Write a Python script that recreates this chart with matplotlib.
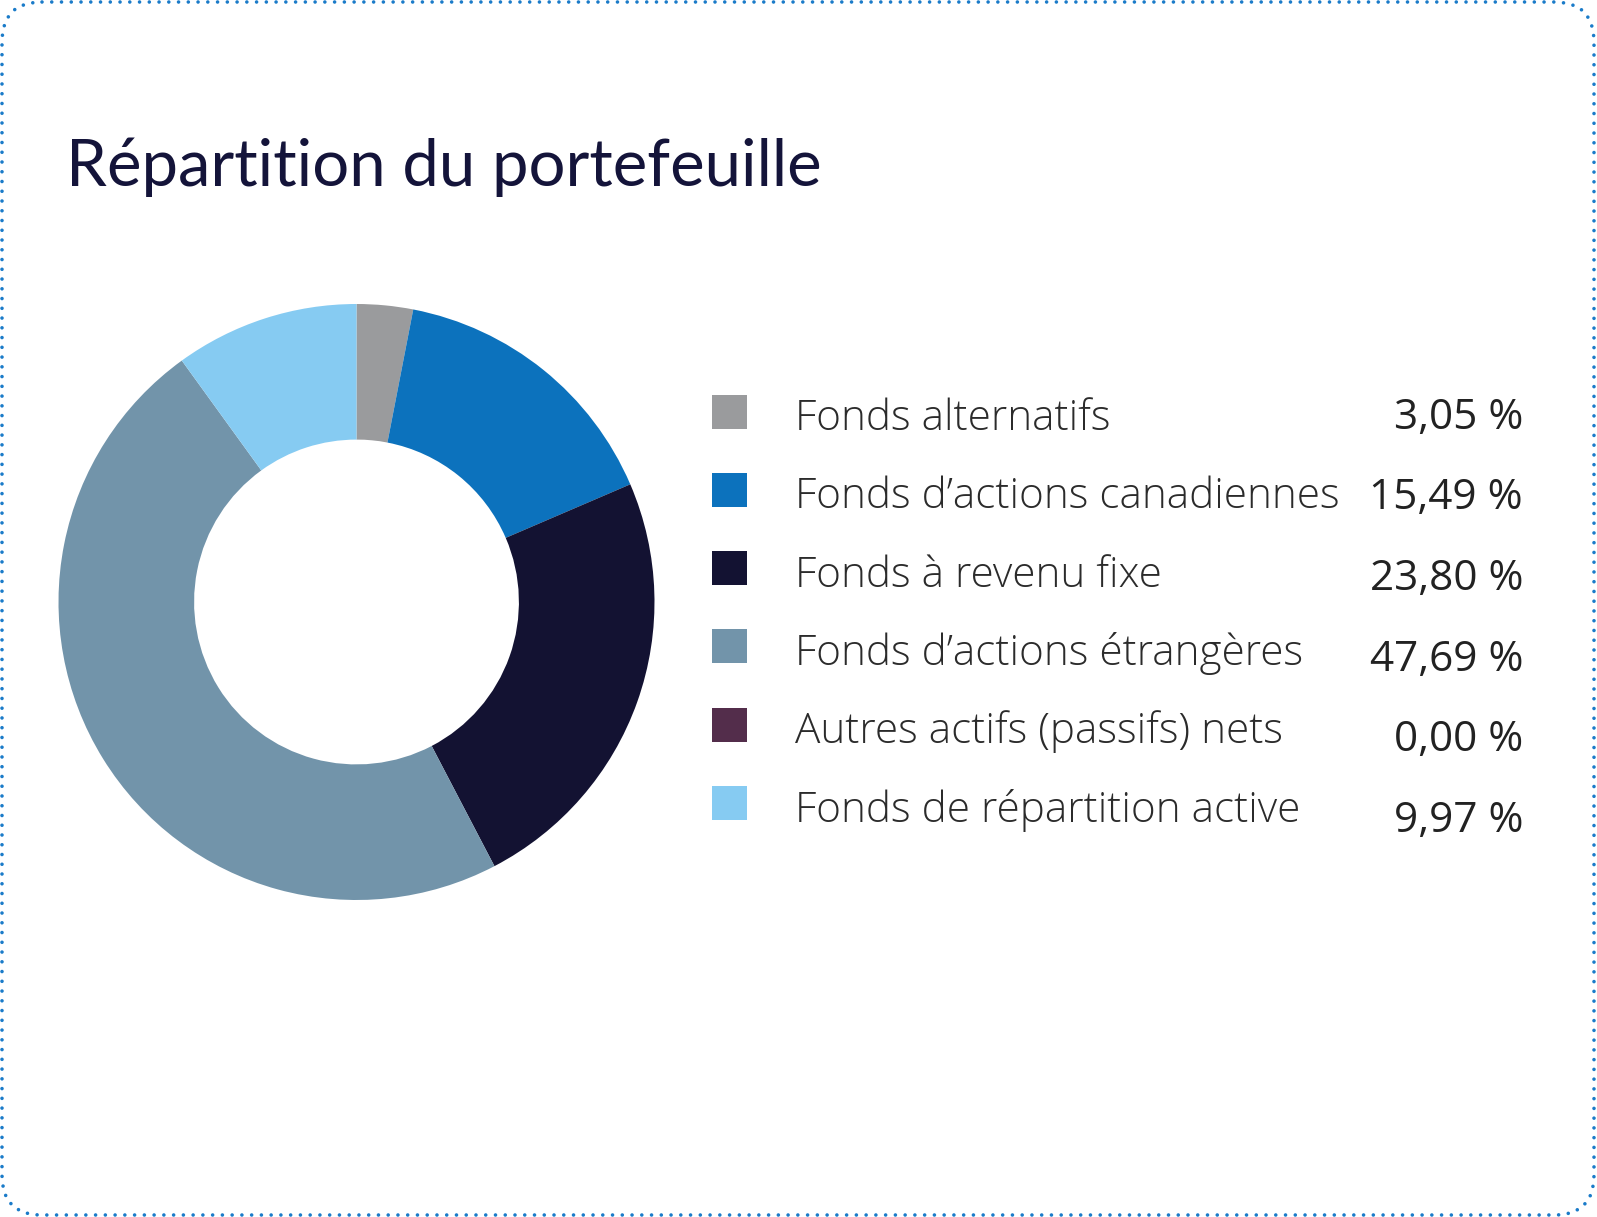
import matplotlib
matplotlib.use("Agg")
import matplotlib.pyplot as plt
from matplotlib.patches import FancyBboxPatch, Rectangle

W, H = 1597, 1217
title = "Répartition du portefeuille"
categories = ["Fonds alternatifs", "Fonds d’actions canadiennes", "Fonds à revenu fixe",
              "Fonds d’actions étrangères", "Autres actifs (passifs) nets",
              "Fonds de répartition active"]
values = [3.05, 15.49, 23.80, 47.69, 0.00, 9.97]
value_labels = ["3,05 %", "15,49 %", "23,80 %", "47,69 %", "0,00 %", "9,97 %"]
colors = ["#9a9b9d", "#0c72bd", "#131232", "#7294aa", "#532d4b", "#86cbf2"]

fig = plt.figure(figsize=(W / 100, H / 100), dpi=100)
fig.patch.set_facecolor("white")

# overlay axes in pixel coords (y from top)
ov = fig.add_axes([0, 0, 1, 1])
ov.set_xlim(0, W)
ov.set_ylim(H, 0)
ov.axis("off")

border = FancyBboxPatch((2, 2), W - 5, H - 4,
                        boxstyle="round,pad=0,rounding_size=40",
                        fill=False, edgecolor="#1a7bc9", linewidth=2.6,
                        linestyle=(0, (0.001, 2.7)), capstyle="round")
ov.add_patch(border)

ov.text(66, 186, title, fontsize=47, family=["Lato", "DejaVu Sans"],
        color="#14143a", ha="left", va="baseline")

# donut
cx, cy, R = 356.5, 602, 298
ax = fig.add_axes([(cx - R) / W, (H - cy - R) / H, 2 * R / W, 2 * R / H])
ax.pie(values, colors=colors, startangle=90, counterclock=False, radius=1,
       wedgeprops=dict(width=0.455, linewidth=0))
ax.set_xlim(-1, 1)
ax.set_ylim(-1, 1)
ax.set_aspect("equal")
ax.axis("off")

# legend
y0, dy = 411.5, 78.3
vy0, vdy = 428.5, 80.7
for i, (c, lab, vl) in enumerate(zip(colors, categories, value_labels)):
    y = y0 + i * dy
    ov.add_patch(Rectangle((712, y - 17), 35, 34, facecolor=c, edgecolor="none"))
    ov.text(795, y + 18.5, lab, fontsize=30.4, family=["Open Sans", "DejaVu Sans"],
            fontweight="light", color="#2b2b2b", ha="left", va="baseline")
    ov.text(1523, vy0 + i * vdy, vl, fontsize=30.4, family=["Open Sans", "DejaVu Sans"],
            color="#222222", ha="right", va="baseline")

fig.savefig("out.png", dpi=100, facecolor="white")
